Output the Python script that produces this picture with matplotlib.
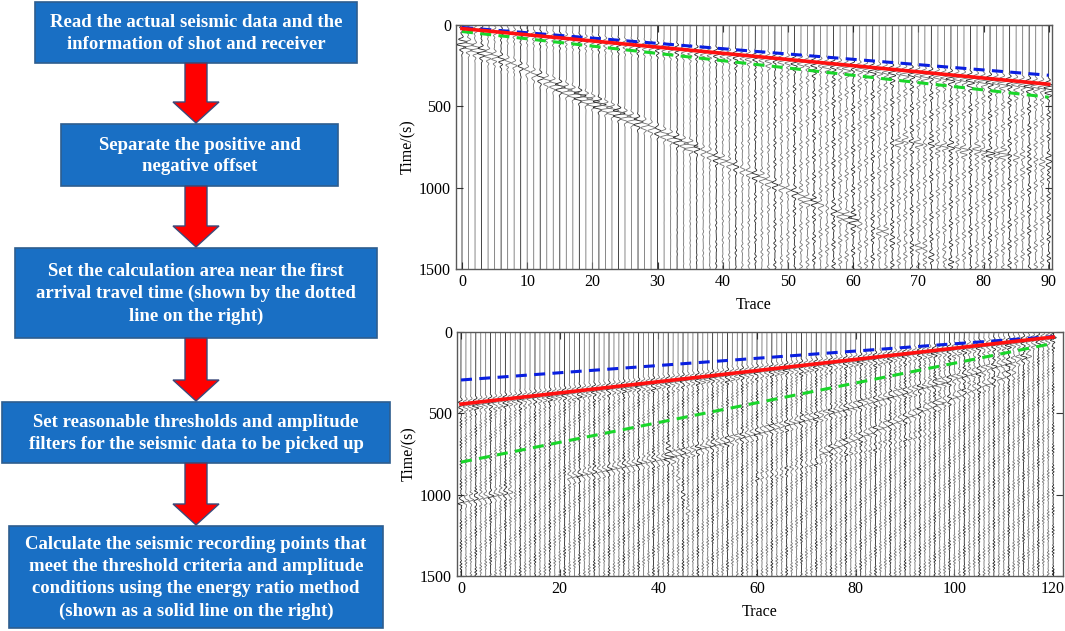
import numpy as np
import matplotlib.pyplot as plt
from matplotlib.patches import Rectangle, Polygon

plt.rcParams['font.family'] = ['Liberation Serif', 'DejaVu Serif']

# ---- flowchart text ----
steps = [
    "Read the actual seismic data and the\ninformation of shot and receiver",
    "Separate the positive and\nnegative offset",
    "Set the calculation area near the first\narrival travel time (shown by the dotted\nline on the right)",
    "Set reasonable thresholds and amplitude\nfilters for the seismic data to be picked up",
    "Calculate the seismic recording points that\nmeet the threshold criteria and amplitude\nconditions using the energy ratio method\n(shown as a solid line on the right)",
]

# ---- top gather (positive offset) ----
top_n = 91
top_xticks = [0, 10, 20, 30, 40, 50, 60, 70, 80, 90]
top_red = ([0, 90], [22, 364])      # picked first arrival (solid)
top_blue = ([0, 90], [15, 309])     # window upper (dashed)
top_green = ([0, 90], [40, 444])    # window lower (dashed)
# events: trace0, time0, trace1, time1, amplitude
top_events = [
    (0, 32, 90, 372, 1.0),
    (0, 50, 90, 400, 0.6),
    (0, 105, 35, 745, 1.1),
    (0, 135, 30, 640, 0.6),
    (35, 745, 60, 1200, 0.8),
    (60, 1200, 75, 1460, 0.5),
    (67, 722, 83, 800, 1.2),
    (68, 745, 83, 822, 0.7),
    (83, 800, 90, 840, 0.5),
    (86, 870, 90, 880, 0.4),
]

# ---- bottom gather (negative offset) ----
bot_n = 121
bot_xticks = [0, 20, 40, 60, 80, 100, 120]
bot_red = ([0, 120], [443, 31])
bot_blue = ([0, 120], [295, 28])
bot_green = ([0, 120], [800, 70])
bot_events = [
    (0, 450, 120, 36, 1.0),
    (0, 475, 120, 60, 0.5),
    (0, 1040, 10, 985, 0.7),
    (22, 890, 42, 770, 0.7),
    (42, 768, 97, 313, 0.8),
    (97, 313, 115, 150, 0.8),
    (73, 744, 97, 437, 0.7),
    (97, 437, 112, 250, 0.6),
    (42, 700, 46, 1100, 0.6),
    (60, 900, 95, 620, 0.35),
]


def wavelet(tau, f, w):
    return np.cos(2 * np.pi * f * tau) * np.exp(-(tau / w) ** 2)


def draw_gather(ax, n, events, fb, coda_amp, coda_f, gain):
    t = np.arange(0, 1501, 2.0)
    for k in range(n):
        s = np.zeros_like(t)
        for x0, t0, x1, t1, a in events:
            if x0 <= k <= x1:
                tc = t0 + (k - x0) * (t1 - t0) / (x1 - x0)
                s += a * wavelet(t - tc, 0.028, 35)
        # ringing after first break
        tf = fb[1][0] + k * (fb[1][1] - fb[1][0]) / (fb[0][1] - fb[0][0])
        ca = coda_amp(k)
        if ca > 0:
            after = t > tf
            s += after * ca * np.sin(2 * np.pi * coda_f * t + 1.9 * k) * \
                np.sin(2 * np.pi * 0.004 * t + 0.7 * k) ** 2
        x = k + np.clip(gain * s, -1.2, 1.2)
        col = '0.15' if k % 3 == 0 else '0.45'
        ax.plot(x, t, color=col, lw=0.6, zorder=2)


def style_axes(ax, xlim, xticks):
    ax.set_xlim(*xlim)
    ax.set_ylim(1500, 0)
    ax.set_xticks(xticks)
    ax.set_yticks([0, 500, 1000, 1500])
    ax.tick_params(direction='in', top=True, right=True, length=5,
                   labelsize=11.5, color='0.2')
    for sp in ax.spines.values():
        sp.set_color('0.35')
        sp.set_linewidth(1)
    ax.set_xlabel('Trace', fontsize=11.5, labelpad=5)
    ax.set_ylabel('Time/(s)', fontsize=11.5, labelpad=2)


def draw_picks(ax, red, blue, green):
    ax.plot(blue[0], blue[1], color='#0a1fe0', lw=2.2, ls=(0, (3.6, 2.4)), zorder=4)
    ax.plot(green[0], green[1], color='#19d62a', lw=2.2, ls=(0, (3.6, 2.4)), zorder=4)
    ax.plot(red[0], red[1], color='#ff1010', lw=2.6, zorder=5)


fig = plt.figure(figsize=(10.65, 6.31), dpi=100)

# ---- flowchart in pixel space ----
ax0 = fig.add_axes([0, 0, 1, 1])
ax0.set_xlim(0, 1065)
ax0.set_ylim(631, 0)
ax0.axis('off')

boxes = [(35, 2, 357, 63), (61, 124, 338, 186), (15, 248, 377, 338),
         (2, 402, 390, 463), (9, 526, 383, 628)]
for (l, tp, r, b), txt in zip(boxes, steps):
    ax0.add_patch(Rectangle((l, tp), r - l, b - tp, facecolor='#196fc4',
                            edgecolor='#2e5d8f', lw=1.2))
    ax0.text((l + r) / 2, (tp + b) / 2 + 1, txt, color='white', fontsize=13.5,
             fontweight='bold', ha='center', va='center', linespacing=1.38)

cx = 196
for i in range(len(boxes) - 1):
    y0 = boxes[i][3]
    y1 = boxes[i + 1][1] - 1
    yh = y1 - 21
    pts = [(cx - 11, y0), (cx + 11, y0), (cx + 11, yh), (cx + 23, yh),
           (cx, y1), (cx - 23, yh), (cx - 11, yh)]
    ax0.add_patch(Polygon(pts, closed=True, facecolor='#ff0000',
                          edgecolor='#3b4a7a', lw=1))

# ---- seismic gathers ----
ax1 = fig.add_axes([456 / 1065, 1 - 269 / 631, 596 / 1065, 244 / 631])
draw_gather(ax1, top_n, top_events, top_red,
            lambda k: 0.0 if k < 30 else min(0.45, (k - 30) / 60),
            0.03, 0.65)
draw_picks(ax1, top_red, top_blue, top_green)
style_axes(ax1, (-0.92, 90.5), top_xticks)

ax2 = fig.add_axes([457 / 1065, 1 - 576 / 631, 606 / 1065, 244 / 631])
draw_gather(ax2, bot_n, bot_events, bot_red,
            lambda k: 0.3, 0.05, 0.7)
draw_picks(ax2, bot_red, bot_blue, bot_green)
style_axes(ax2, (-0.81, 122), bot_xticks)

fig.savefig('out.png', dpi=100)
